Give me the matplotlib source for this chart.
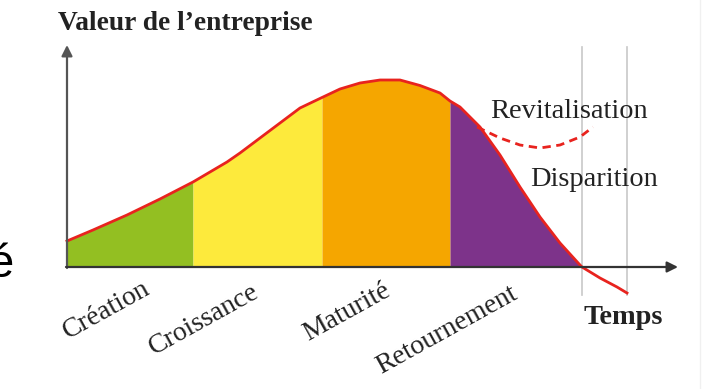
import matplotlib.pyplot as plt
import numpy as np

# curve (time, company value), origin at the axes corner
t = np.array([0, 26, 60, 93, 126, 160, 173, 193, 213, 233, 255, 273, 293, 313,
              333, 353, 373, 383, 393, 413, 433, 453, 473, 493, 513, 515, 533,
              550, 560])
v = np.array([26, 37, 52, 68, 85, 105, 114, 129, 144, 159, 169.5, 178, 184,
              187, 187, 181.5, 174, 166, 160, 140, 112, 80, 50, 24, 2, 0, -11,
              -20, -26])

# dashed "revitalisation" branch
t_revit = np.array([410, 433, 453, 473, 493, 513, 526])
v_revit = np.array([140, 129, 122, 119, 122, 130, 140])

phases = ['Création', 'Croissance', 'Maturité', 'Retournement']
bounds = [0, 126, 255, 383, 515]
colors = ['#93bf22', '#fdea3c', '#f5a600', '#7d338a']
label_pos = [(40, -43), (137, -53), (280, -45), (380, -63)]
end_lines = [515, 560]

serif = 'Liberation Serif'
txt = '#222222'

fig = plt.figure(figsize=(7.05, 3.89), dpi=100)
ax = fig.add_axes([0, 0, 1, 1])
ax.set_xlim(-67, 638)
ax.set_ylim(-122, 267)
ax.axis('off')

for i in range(4):
    m = (t >= bounds[i]) & (t <= bounds[i + 1])
    ax.fill_between(t[m], 0, v[m], color=colors[i], lw=0, zorder=1)

for x in end_lines:
    ax.plot([x, x], [-28, 220], color='#c8c8c8', lw=1.2, zorder=0)
ax.plot([633, 633], [-122, 267], color='#f0f0f0', lw=1, zorder=0)

ax.plot(t, v, color='#e8231e', lw=2, zorder=3, solid_joinstyle='round')
ax.plot(t_revit, v_revit, color='#e8231e', lw=2, ls=(0, (3, 2)), zorder=3)

# axes arrows
ax.annotate('', xy=(0, 222), xytext=(0, -1),
            arrowprops=dict(arrowstyle='-|>', color='#555555', lw=1.6,
                            mutation_scale=16, shrinkA=0, shrinkB=0), zorder=4)
ax.annotate('', xy=(611, 0), xytext=(-1, 0),
            arrowprops=dict(arrowstyle='-|>', color='#333333', lw=1.6,
                            mutation_scale=16, shrinkA=0, shrinkB=0), zorder=4)

ax.text(-9, 244, 'Valeur de l’entreprise', family=serif, weight='bold',
        fontsize=19.8, color=txt, va='center', ha='left')
ax.text(423, 156, 'Revitalisation', family=serif, fontsize=20.4, color=txt,
        va='center', ha='left')
ax.text(463, 87, 'Disparition', family=serif, fontsize=20.4, color=txt,
        va='center', ha='left')
ax.text(516, -50, 'Temps', family=serif, weight='bold', fontsize=20.4,
        color=txt, va='center', ha='left')

for name, (x, y) in zip(phases, label_pos):
    ax.text(x, y, name, family=serif, fontsize=20, color=txt, rotation=29,
            rotation_mode='anchor', ha='center', va='center')

ax.text(-79, -10, 'é', family='Liberation Sans', fontsize=34, color='black',
        ha='left', va='baseline')

fig.savefig('out.png', dpi=100)
